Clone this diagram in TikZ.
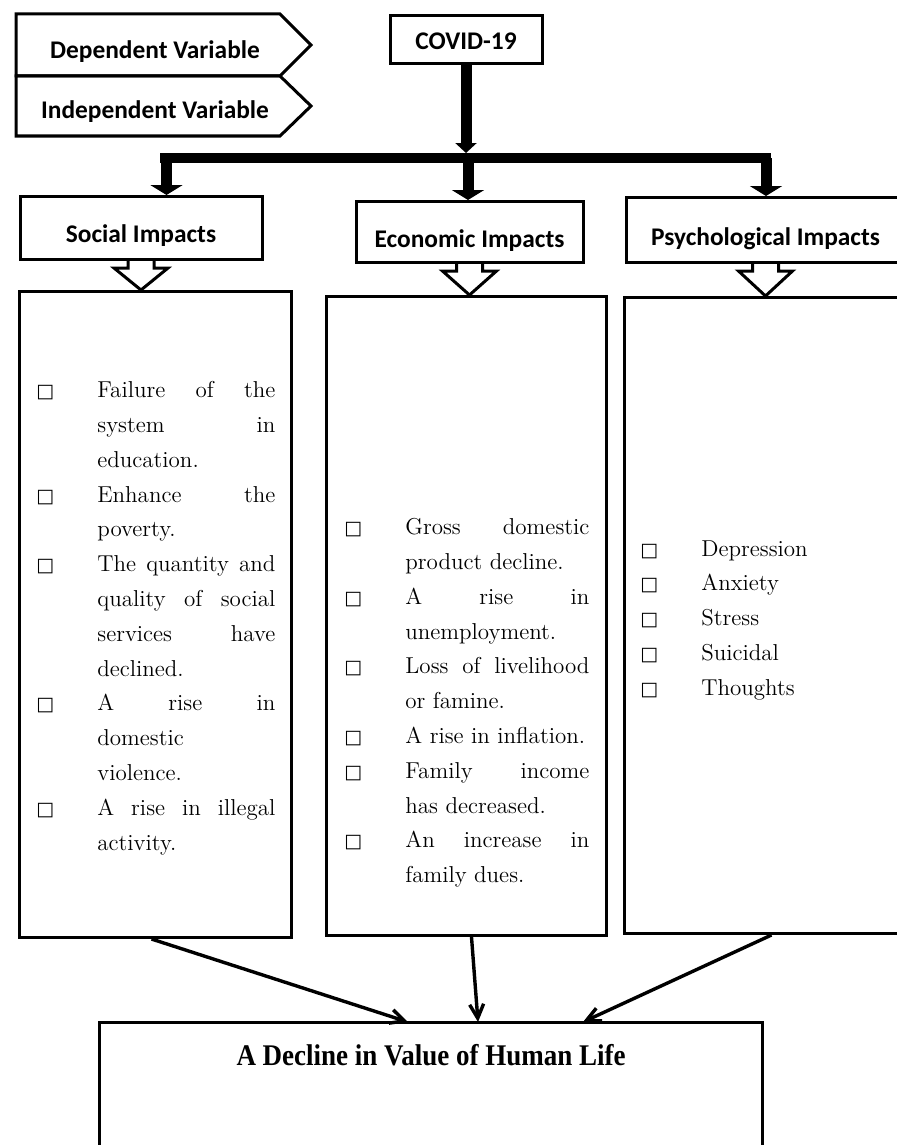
\documentclass[tikz,border=0pt]{standalone}
\usepackage{fontspec}
\usepackage{graphicx}
\newfontfamily\hdrfont{Carlito}
\newfontfamily\timesfont{Liberation Serif}
\newfontfamily\symfont{DejaVu Sans}
\usetikzlibrary{arrows.meta,calc,positioning}

\newlength{\bulw}\setlength{\bulw}{30.5pt}
\newlength{\txtw}
% square bullet and list lines
\newcommand{\sqglyph}{\smash{\symfont\fontsize{9.5}{9.5}\selectfont\symbol{"25A1}}}
\newcommand{\itemj}[1]{\makebox[\bulw][l]{\sqglyph}\makebox[\txtw][s]{#1}}
\newcommand{\iteml}[1]{\makebox[\bulw][l]{\sqglyph}#1}
\newcommand{\contj}[1]{\hspace*{\bulw}\makebox[\txtw][s]{#1}}
\newcommand{\contl}[1]{\hspace*{\bulw}#1}
% hollow block arrow from a header to its panel
\newcommand{\hollowdown}[2]{%
  \draw[outline] ($(#1.south)+(-13,0)$) -- ++(0,7) -- ++(-14,0) -- (#1.south |- #2.north)
    -- ($(#1.south)+(27,7)$) -- ++(-14,0) -- ++(0,-7);}

\begin{document}
\begin{tikzpicture}[x=0.5pt, y=-0.5pt,
    frame/.style={draw, line width=1.5pt, inner sep=0pt},
    hdr/.style={frame, font=\hdrfont\bfseries\fontsize{12.7}{14}\selectfont},
    legendtxt/.style={anchor=base, inner sep=0pt, font=\hdrfont\bfseries\fontsize{12.7}{14}\selectfont},
    panel/.style={frame, anchor=north west},
    itemlist/.style={inner sep=0pt, align=left, anchor=north west, font=\fontsize{11.5}{17.4}\selectfont},
    bigarrow/.style={line width=5.5pt, -{Triangle[width=16pt,length=5pt]}},
    outline/.style={line width=1.5pt, line join=miter},
    link/.style={line width=1.7pt, -{Straight Barb[length=7pt,width=7pt]}}]
  \useasboundingbox (0,0) rectangle (897,1145);

  % Legend
  \draw[line width=1.5pt] (16,14) -- (280,14) -- (311,45) -- (280,76) -- (16,76) -- cycle;
  \draw[line width=1.5pt] (16,76) -- (280,76) -- (311,106) -- (280,136) -- (16,136) -- cycle;
  \node[legendtxt] (deplbl) at (155,59) {Dependent Variable};
  \node[legendtxt] (indlbl) at (155,119) {Independent Variable};

  % Top and headers
  \node[hdr, anchor=north, minimum width=76pt, text height=17pt, text depth=7pt] (covid) at (466,14) {COVID-19};
  \node[hdr, anchor=north, minimum width=121pt, text height=23pt, text depth=8.5pt] (soc) at (141,195) {Social Impacts};
  \node[hdr, anchor=north, minimum width=113.5pt, text height=23pt, text depth=7.5pt] (eco) at (469.5,200) {Economic Impacts};
  \node[hdr, anchor=north, minimum width=139.5pt, text height=24pt, text depth=8.5pt] (psy) at (765.5,196) {Psychological Impacts};

  % Branching bar
  \coordinate (barL) at (160,158);
  \coordinate (barR) at (771,158);
  \coordinate (dropS) at (166.5,158);
  \coordinate (dropE) at (468,158);
  \coordinate (dropP) at (766,158);
  \draw[line width=5pt] (barL) -- (barR);
  \draw[bigarrow, -{Triangle[width=10.5pt,length=5pt]}, shorten >=2.5pt] (covid.south) -- (covid.south |- barL);
  \draw[bigarrow] (dropS) -- (dropS |- soc.north);
  \draw[bigarrow] (dropE) -- (dropE |- eco.north);
  \draw[bigarrow] (dropP) -- (dropP |- psy.north);

  % Panels
  \node[panel, minimum width=136pt, minimum height=323pt] (socbox) at (18,290) {};
  \node[panel, minimum width=140pt, minimum height=319.5pt] (ecobox) at (325,295) {};
  \node[panel, minimum width=145pt, minimum height=318pt] (psybox) at (623,296) {};
  \hollowdown{soc}{socbox}
  \hollowdown{eco}{ecobox}
  \hollowdown{psy}{psybox}

  % Panel texts
  \setlength{\txtw}{89pt}
  \node[itemlist] (soctxt) at (36,381) {%
    \itemj{Failure of the}\\
    \contj{system in}\\
    \contl{education.}\\
    \itemj{Enhance the}\\
    \contl{poverty.}\\
    \itemj{The quantity and}\\
    \contj{quality of social}\\
    \contj{services have}\\
    \contl{declined.}\\
    \itemj{A rise in}\\
    \contl{domestic}\\
    \contl{violence.}\\
    \itemj{A rise in illegal}\\
    \contl{activity.}};
  \setlength{\txtw}{92pt}
  \node[itemlist] (ecotxt) at (344,518) {%
    \itemj{Gross domestic}\\
    \contl{product decline.}\\
    \itemj{A rise in}\\
    \contl{unemployment.}\\
    \itemj{Loss of livelihood}\\
    \contl{or famine.}\\
    \iteml{A rise in inflation.}\\
    \itemj{Family income}\\
    \contl{has decreased.}\\
    \itemj{An increase in}\\
    \contl{family dues.}};
  \node[itemlist] (psytxt) at (640,540) {%
    \iteml{Depression}\\
    \iteml{Anxiety}\\
    \iteml{Stress}\\
    \iteml{Suicidal}\\
    \iteml{Thoughts}};

  % Outcome (box runs off the bottom edge)
  \node[inner sep=0pt, anchor=north, minimum width=331pt, minimum height=110pt] (goal) at (431,1022) {};
  \draw[line width=1.5pt] (goal.south west) -- (goal.north west) -- (goal.north east) -- (goal.south east);
  \node[anchor=base, inner sep=0pt, font=\timesfont\bfseries\fontsize{15}{15}\selectfont] (goaltxt)
        at (431,1065) {\scalebox{0.9}[1]{A Decline in Value of Human Life}};
  \draw[link] ($(socbox.south)+(-4,0)$) -- ($(goal.north)+(-23,0)$);
  \draw[link] ($(ecobox.south)+(5,0)$) -- ($(goal.north)+(47,0)$);
  \draw[link] ($(psybox.south)+(2,0)$) -- ($(goal.north)+(152,0)$);
\end{tikzpicture}
\end{document}
